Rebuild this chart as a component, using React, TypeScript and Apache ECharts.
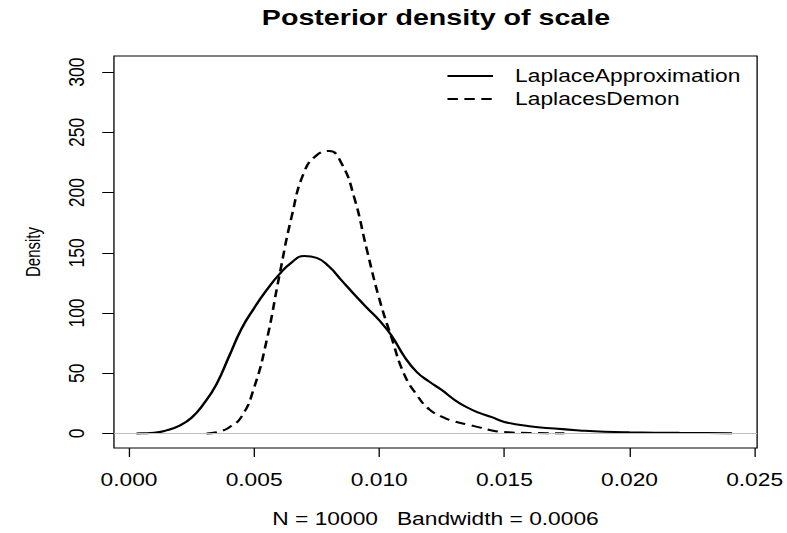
import React, { useEffect, useRef } from "react";
import * as echarts from "echarts";

// Tick labels
const xTicks = [0, 0.005, 0.01, 0.015, 0.02, 0.025];
const yTicks = [0, 50, 100, 150, 200, 250, 300];

// LaplaceApproximation density (solid)
const laX = [0.0003, 0.0005, 0.001, 0.0015, 0.002, 0.0025, 0.003, 0.0035, 0.004, 0.0045, 0.005, 0.0055, 0.006, 0.0065, 0.007, 0.0075, 0.008, 0.0085, 0.009, 0.0095, 0.01, 0.0105, 0.011, 0.0115, 0.012, 0.0125, 0.013, 0.0135, 0.014, 0.0145, 0.015, 0.016, 0.017, 0.018, 0.019, 0.02, 0.022, 0.0241];
const laY = [0, 0.1, 0.5, 2.5, 6.3, 13, 25, 41, 64, 87, 104, 119, 132, 142, 147.3, 145.8, 138.5, 127, 115.5, 104.5, 94, 81, 64, 51, 43, 36, 28, 21.7, 17, 13.5, 9.5, 6, 4, 2.5, 1.4, 0.9, 0.5, 0.2];

// LaplacesDemon density (dashed)
const ldX = [0.0031, 0.0035, 0.004, 0.0045, 0.005, 0.0055, 0.006, 0.0065, 0.007, 0.0075, 0.008, 0.0085, 0.009, 0.0095, 0.01, 0.0105, 0.011, 0.0115, 0.012, 0.0125, 0.013, 0.0135, 0.014, 0.0145, 0.015, 0.016, 0.0174];
const ldY = [0, 1, 5, 14, 38, 77, 130, 180, 217, 231, 234.5, 224, 196, 153, 112, 79, 49, 32, 20, 14, 10, 7.5, 5, 2.5, 1.2, 0.4, 0.2];

const seriesNames = ["LaplaceApproximation", "LaplacesDemon"];
const titleText = "Posterior density of scale";
const xName = "N = 10000   Bandwidth = 0.0006";
const yName = "Density";

const W = 787;
const H = 533;
const INNER_W = 605;
const K = W / INNER_W;

export default function App() {
  const ref = useRef<HTMLDivElement>(null);
  useEffect(() => {
    if (!ref.current) return;
    const chart = echarts.init(ref.current, null, { renderer: "svg" });
    const font = "'Liberation Sans', Arial, sans-serif";
    const plotCenter = (87.6 + (INNER_W - 22.3)) / 2;
    chart.setOption({
      animation: false,
      backgroundColor: "#ffffff",
      textStyle: { fontFamily: font },
      title: {
        text: titleText,
        left: plotCenter,
        textAlign: "center",
        top: 6,
        padding: 0,
        textStyle: { fontFamily: font, fontWeight: "bold", fontSize: 22, color: "#000" },
      },
      legend: {
        data: seriesNames,
        orient: "vertical",
        left: 343,
        top: 66,
        padding: 0,
        itemWidth: 35,
        itemHeight: 20,
        itemGap: 3,
        itemStyle: { opacity: 0 },
        textStyle: { fontFamily: font, fontSize: 17.5, color: "#000", lineHeight: 20, padding: [0, 0, 0, 12] },
      },
      grid: {
        left: 87.6,
        right: 22.3,
        top: 56,
        bottom: 82,
        show: true,
        borderColor: "#000",
        borderWidth: 1,
        backgroundColor: "transparent",
      },
      xAxis: {
        type: "value",
        min: -0.0006,
        max: 0.0251,
        name: xName,
        nameLocation: "middle",
        nameGap: 62,
        nameTextStyle: { fontFamily: font, fontSize: 17.5, color: "#000" },
        axisLine: { show: false, onZero: false },
        splitLine: { show: false },
        axisTick: { show: true, length: 9, customValues: xTicks, lineStyle: { color: "#000", width: 1 } },
        axisLabel: {
          customValues: xTicks,
          margin: 23,
          fontFamily: font,
          fontSize: 17.5,
          color: "#000",
          formatter: (v: number) => v.toFixed(3),
        },
      },
      yAxis: {
        type: "value",
        min: -12.1,
        max: 313.4,
        name: yName,
        nameLocation: "middle",
        nameGap: 54.5,
        nameTextStyle: { fontFamily: font, fontSize: 15, color: "#000" },
        axisLine: { show: false, onZero: false },
        splitLine: { show: false },
        axisTick: { show: true, length: 9, customValues: yTicks, lineStyle: { color: "#000", width: 1 } },
        axisLabel: {
          customValues: yTicks,
          rotate: 90,
          margin: 20,
          fontFamily: font,
          fontSize: 17.5,
          color: "#000",
          formatter: (v: number) => String(v),
        },
      },
      series: [
        {
          name: seriesNames[0],
          type: "line",
          data: laX.map((x, i) => [x, laY[i]]),
          symbol: "none",
          smooth: 0.5,
          z: 3,
          lineStyle: { color: "#000", width: 2, type: "solid" },
          itemStyle: { color: "#000" },
        },
        {
          name: seriesNames[1],
          type: "line",
          data: ldX.map((x, i) => [x, ldY[i]]),
          symbol: "none",
          smooth: 0.5,
          z: 3,
          lineStyle: { color: "#000", width: 2, type: [8, 5] },
          itemStyle: { color: "#000" },
        },
        {
          name: "zero",
          type: "line",
          data: [],
          z: 5,
          markLine: {
            silent: true,
            symbol: ["none", "none"],
            label: { show: false },
            lineStyle: { color: "#bebebe", width: 1, type: "solid" },
            data: [{ yAxis: 0 }],
          },
        },
      ],
    });
    return () => chart.dispose();
  }, []);

  return (
    <div style={{ position: "fixed", left: 0, top: 0, width: W, height: H, overflow: "hidden", background: "#fff" }}>
      <div
        ref={ref}
        style={{ width: INNER_W, height: H, transform: `scaleX(${K})`, transformOrigin: "0 0" }}
      />
    </div>
  );
}
